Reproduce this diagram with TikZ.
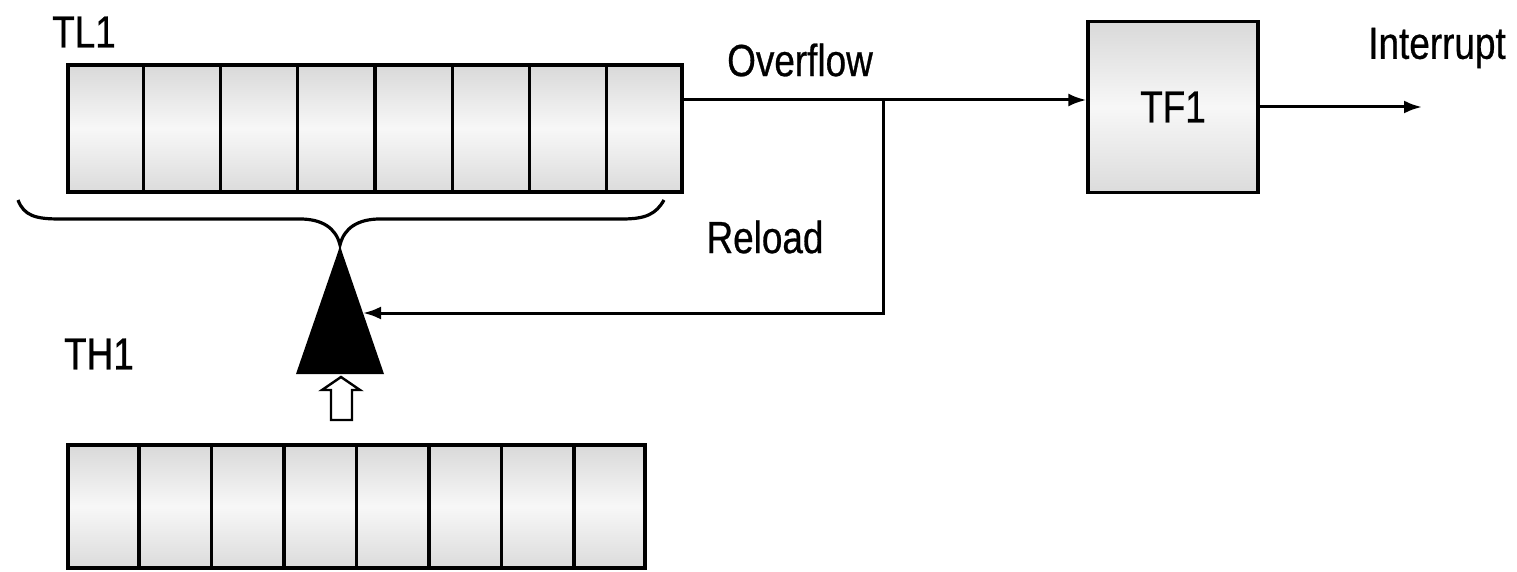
\documentclass[tikz,border=0pt]{standalone}
\usepackage{fontspec}
\setmainfont{Liberation Sans}[FakeStretch=0.82,FakeBold=0.6]
\usetikzlibrary{arrows.meta,calc}
\begin{document}
\begin{tikzpicture}[x=1pt,y=-1pt,line width=3.2pt,
  reg/.style={draw, rectangle, inner sep=0pt, top color=gray!30, bottom color=gray!28, middle color=gray!6},
  lab/.style={inner sep=0pt, font=\fontsize{45}{50}\selectfont},
  conn/.style={line width=3pt},
  tip/.style={-{Latex[length=18pt,width=13pt]}}]
\useasboundingbox (0,0) rectangle (1517,572);
% registers
\node[reg, minimum width=614pt, minimum height=127pt] (tl1) at (375,128.5) {};
\node[reg, minimum width=577pt, minimum height=123pt] (th1) at (356.5,506.5) {};
\foreach \i in {1,...,7}{
  \draw ($(tl1.north west)!\i/8!(tl1.north east)$) -- ($(tl1.south west)!\i/8!(tl1.south east)$);
  \draw ($(th1.north west)!\i/8!(th1.north east)$) -- ($(th1.south west)!\i/8!(th1.south east)$);
}
% TF1
\node[reg, minimum width=170pt, minimum height=171pt, lab] (tf1) at (1173,107) {TF1};
% labels
\node[lab] (ltl1) at (84,32) {TL1};
\node[lab] (lth1) at (99,354) {TH1};
\node[lab] (lovf) at (800,60) {Overflow};
\node[lab] (lrel) at (765,237) {Reload};
\node[lab] (lint) at (1437,48) {Interrupt};
% brace
\coordinate (bl) at (18,200);
\coordinate (bt) at (340,245);
\coordinate (br) at (664,200);
\draw (bl) .. controls (24,216) and (36,219) .. (60,219) -- (300,219)
      .. controls (322,219) and (336,228) .. (bt)
      .. controls (344,228) and (358,219) .. (380,219) -- (622,219)
      .. controls (646,219) and (656,214) .. (br);
% black triangle
\fill (bt) -- (342,252) -- (384,374) -- (296,374) -- (338,252) -- cycle;
% hollow arrow
\draw[line width=2.4pt, fill=white] (331,420) -- (331,390) -- (322,390) -- (341,377) -- (360,390) -- (352,390) -- (352,420) -- cycle;
% connectors
\coordinate (j) at (883,100);
\coordinate (rl) at (363,313);
\coordinate (intr) at (1422,107);
\draw[conn] (tl1.east |- j) -- (j);
\draw[conn,tip] (j) -- (tf1.west |- j);
\draw[conn,tip] (j) -- (j |- rl) -- (rl);
\draw[conn,tip] (tf1.east |- intr) -- (intr);
\end{tikzpicture}
\end{document}
